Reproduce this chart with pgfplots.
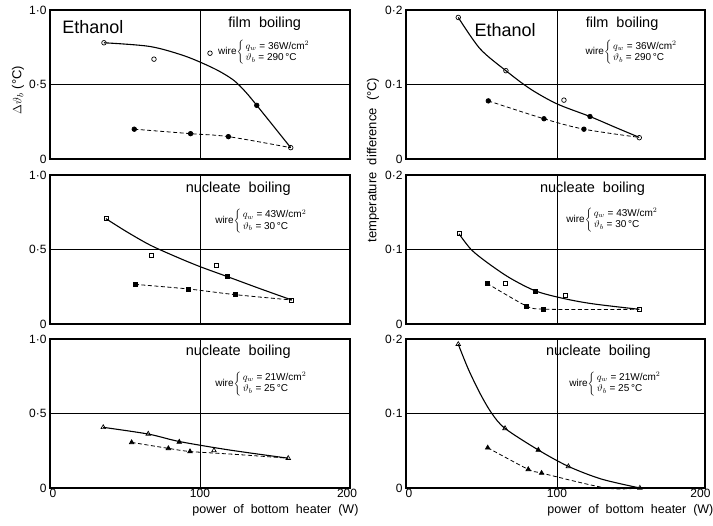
\documentclass[border=0pt]{standalone}
\usepackage{pgfplots}
\pgfplotsset{compat=1.18}
\usepackage{fontspec}
\setmainfont{Liberation Sans}

\pgfplotsset{
  panel/.style={
    scale only axis, height=149pt,
    ymin=0,
    axis line style={line width=1.1pt},
    major tick length=0pt,
    tick label style={font=\fontsize{12}{12}\selectfont},
    ymajorgrids=true,
    grid style={line width=0.7pt, black},
    xtick={0,100,200},
    extra x ticks={100},
    extra x tick labels={},
    extra x tick style={xmajorgrids=true},
    clip=false,
  },
  leftp/.style={panel, width=300pt, xmin=-2, xmax=202,
    ymax=1, ytick={0,0.5,1}, yticklabels={0,0·5,1·0}},
  rightp/.style={panel, width=299pt, xmin=-2, xmax=200,
    ymax=0.2, ytick={0,0.1,0.2}, yticklabels={0,0·1,0·2}},
  notop/.style={xticklabels={}},
  bottom/.style={
    xticklabel style={yshift=2pt},
    xlabel={power\ \ of\ \ bottom\ \ heater\ \ (W)},
    xlabel style={font=\fontsize{12.5}{13}\selectfont, at={(axis description cs:1.04,0)}, anchor=north east, yshift=-13pt}
  },
  solidc/.style={black, line width=1.1pt, smooth, no marks},
  dashc/.style={black, line width=0.8pt, dash pattern=on 4pt off 2.5pt, smooth, no marks},
  pts/.style={only marks, black, mark size=2.3pt, mark options={line width=0.7pt, fill=black}},
}
\newcommand{\ann}[1]{\fontsize{14.5}{15}\selectfont #1}
\newcommand{\wire}[2]{\fontsize{10}{11.5}\selectfont wire$\left\{\begin{tabular}{@{\,}l@{}}$q_w$ = #1W/cm$^2$\\ $\vartheta_b$ = #2\,°C\end{tabular}\right.$}

\begin{document}
\begin{tikzpicture}
\useasboundingbox (0pt,0pt) rectangle (713pt,526pt);

% ---------- top left ----------
\begin{axis}[leftp, notop, at={(50pt,367pt)}, anchor=south west]
\addplot[solidc] coordinates {(34.7,0.78) (66,0.755) (90,0.69) (110,0.605) (122.7,0.53) (131,0.45) (138.6,0.36) (150,0.22) (161.7,0.076)};
\addplot[dashc] coordinates {(55.3,0.20) (93.6,0.17) (119.3,0.15) (161.7,0.076)};
\addplot[pts, mark=o] coordinates {(34.7,0.78) (68.7,0.67) (106.8,0.71) (161.7,0.076)};
\addplot[pts, mark=*] coordinates {(138.6,0.36) (55.3,0.20) (93.6,0.17) (119.3,0.15)};
\node[anchor=west, font=\fontsize{18}{18}\selectfont] at (axis cs:4,0.885) {Ethanol};
\node[font=\ann] at (axis cs:144,0.905) {film\ \ boiling};
\node[anchor=west] at (axis cs:110,0.715) {\wire{36}{290}};
\end{axis}

% ---------- middle left ----------
\begin{axis}[leftp, notop, at={(50pt,202pt)}, anchor=south west]
\addplot[solidc] coordinates {(36,0.707) (50,0.62) (66,0.53) (84,0.45) (100,0.385) (118.6,0.318) (140,0.24) (162.4,0.161)};
\addplot[dashc] coordinates {(55.8,0.266) (92,0.235) (123.8,0.197) (162.4,0.161)};
\addplot[pts, mark=square, mark size=2pt] coordinates {(36,0.707) (66.7,0.458) (111,0.396) (162.4,0.161)};
\addplot[pts, mark=square*, mark size=2pt] coordinates {(118.6,0.318) (55.8,0.266) (92,0.235) (123.8,0.197)};
\node[font=\ann] at (axis cs:126,0.91) {nucleate\ \ boiling};
\node[anchor=west] at (axis cs:108,0.69) {\wire{43}{30}};
\end{axis}

% ---------- bottom left ----------
\begin{axis}[leftp, bottom, xticklabels={0,100,200}, at={(50pt,38pt)}, anchor=south west]
\addplot[solidc] coordinates {(34.2,0.407) (64.8,0.362) (85.9,0.312) (120,0.255) (160,0.20)};
\addplot[dashc] coordinates {(53.5,0.306) (78.5,0.266) (93.2,0.245) (125,0.225) (160,0.20)};
\addplot[pts, mark=triangle, mark size=2.6pt] coordinates {(34.2,0.407) (64.8,0.363) (109.5,0.252) (160,0.20)};
\addplot[pts, mark=triangle*, mark size=2.6pt] coordinates {(85.9,0.309) (53.5,0.306) (78.5,0.266) (93.2,0.245)};
\node[font=\ann] at (axis cs:126,0.915) {nucleate\ \ boiling};
\node[anchor=west] at (axis cs:108,0.70) {\wire{21}{25}};
\end{axis}

% ---------- top right ----------
\begin{axis}[rightp, notop, at={(406pt,367pt)}, anchor=south west]
\addplot[solidc] coordinates {(33.3,0.19) (48,0.148) (65.5,0.1185) (82,0.094) (100,0.074) (122.3,0.057) (140,0.042) (155.6,0.029)};
\addplot[dashc] coordinates {(53.6,0.078) (91.2,0.054) (118.2,0.040) (155.6,0.029)};
\addplot[pts, mark=o] coordinates {(33.3,0.19) (65.5,0.1185) (104.7,0.079) (155.6,0.0286)};
\addplot[pts, mark=*] coordinates {(122.3,0.057) (53.6,0.078) (91.2,0.054) (118.2,0.040)};
\node[anchor=west, font=\fontsize{18}{18}\selectfont] at (axis cs:42,0.173) {Ethanol};
\node[font=\ann] at (axis cs:144,0.181) {film\ \ boiling};
\node[anchor=west] at (axis cs:117,0.143) {\wire{36}{290}};
\end{axis}

% ---------- middle right ----------
\begin{axis}[rightp, notop, at={(406pt,202pt)}, anchor=south west]
\addplot[solidc] coordinates {(33.8,0.121) (42,0.1) (52.5,0.083) (68,0.062) (85.6,0.0443) (105,0.034) (124.5,0.027) (155.6,0.0197)};
\addplot[dashc] coordinates {(52.7,0.0546) (79.5,0.024) (90.8,0.020) (120,0.0195) (155.6,0.0197)};
\addplot[pts, mark=square, mark size=2pt] coordinates {(33.8,0.121) (65,0.0546) (105.6,0.0385) (155.6,0.0197)};
\addplot[pts, mark=square*, mark size=2pt] coordinates {(85.6,0.0443) (52.7,0.0546) (79.5,0.024) (90.8,0.020)};
\node[font=\ann] at (axis cs:124,0.182) {nucleate\ \ boiling};
\node[anchor=west] at (axis cs:104,0.14) {\wire{43}{30}};
\end{axis}

% ---------- bottom right ----------
\begin{axis}[rightp, bottom, xticklabels={0,100,{\hspace*{-9pt}200}}, at={(406pt,38pt)}, anchor=south west]
\addplot[solidc] coordinates {(33.3,0.193) (40,0.16) (48,0.127) (56,0.1) (64.9,0.080) (87.4,0.051) (107.7,0.029) (130,0.012) (156,0.0)};
\addplot[dashc] coordinates {(53.2,0.054) (80.6,0.025) (89.6,0.020) (133,0.0) (156,0.0)};
\addplot[pts, mark=triangle, mark size=2.6pt] coordinates {(33.3,0.193) (64.9,0.080) (107.7,0.029) (156,0.0)};
\addplot[pts, mark=triangle*, mark size=2.6pt] coordinates {(87.4,0.051) (53.2,0.054) (80.6,0.025) (89.6,0.020)};
\node[font=\ann] at (axis cs:128,0.183) {nucleate\ \ boiling};
\node[anchor=west] at (axis cs:106,0.140) {\wire{21}{25}};
\end{axis}

% ---------- y labels ----------
\node[rotate=90, font=\fontsize{13}{13}\selectfont] at (18pt,436pt) {$\Delta\vartheta_b$ (°C)};
\node[rotate=90, font=\fontsize{13}{13}\selectfont] at (373pt,366pt) {temperature\ \ difference\ \ (°C)};
\end{tikzpicture}
\end{document}
